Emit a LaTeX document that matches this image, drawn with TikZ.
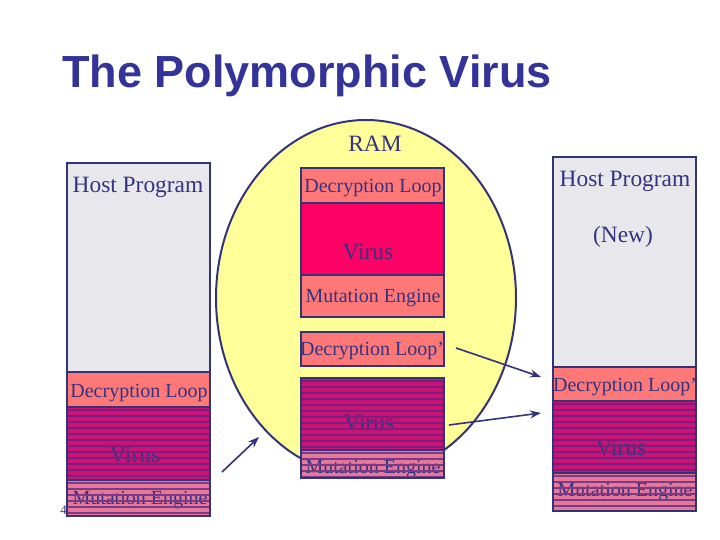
\documentclass[tikz,border=0pt]{standalone}
\usepackage{fontspec}
\setmainfont{Liberation Serif}
\newfontfamily\titlefont{Liberation Sans}
\usetikzlibrary{shapes.geometric,arrows.meta}
\definecolor{navy}{HTML}{333377}
\definecolor{txt}{HTML}{333380}
\definecolor{titleblue}{HTML}{333399}
\definecolor{hostgrey}{HTML}{E8E8EC}
\definecolor{salmon}{HTML}{FF7878}
\definecolor{hotpink}{HTML}{FF0066}
\definecolor{magband}{HTML}{CC1177}
\definecolor{magline}{HTML}{7A1F7A}
\definecolor{pinkband}{HTML}{E87898}
\definecolor{pinkline}{HTML}{7A3A8A}
\definecolor{ramyellow}{HTML}{FFFF99}
\newcommand\stripeit[2]{%
  \begin{scope}
    \clip (#1.north west) rectangle (#1.south east);
    \foreach \k in {0,...,15}
      \draw[line width=1.8pt,#2] ([yshift=-(3+6*\k)*1pt]#1.north west) -- ++(160,0);
  \end{scope}
  \draw[boxline] (#1.north west) rectangle (#1.south east);}
\begin{document}
\begin{tikzpicture}[x=1pt,y=-1pt,
  boxline/.style={draw=navy,line width=2pt},
  membox/.style={rectangle,boxline,inner sep=0pt,outer sep=0pt,anchor=north west,minimum width=143pt},
  bigtxt/.style={text=txt,font=\fontsize{23.4}{26}\selectfont,anchor=base,inner sep=0pt},
  smalltxt/.style={text=txt,font=\fontsize{20}{23}\selectfont,anchor=base,inner sep=0pt},
  arr/.style={draw=navy,line width=1.6pt,-{Stealth[length=11pt,width=8pt]}}]
\useasboundingbox (0,0) rectangle (720,540);
\fill[white] (0,0) rectangle (720,540);

% title
\node[text=titleblue,font=\titlefont\bfseries\fontsize{45}{50}\selectfont,anchor=base west,inner sep=0pt] (title) at (62,88) {The Polymorphic Virus};

% RAM ellipse
\node[ellipse,boxline,fill=ramyellow,minimum width=300pt,minimum height=356pt,inner sep=0pt] (ram) at (366,298) {};
\node[bigtxt] (ramlabel) at (375,152) {RAM};

% slide number
\node[text=txt,font=\fontsize{13}{14}\selectfont,anchor=base east,inner sep=0pt] (pagenum) at (67,514) {4};

% left stack
\node[membox,fill=hostgrey,minimum height=209pt] (lhost) at (67,163) {};
\node[membox,fill=salmon,minimum height=35pt] (ldec) at (67,372) {};
\node[membox,fill=magband,minimum height=73pt] (lvir) at (67,407) {};
\node[membox,fill=pinkband,minimum height=36pt] (lmut) at (67,480) {};
\node[bigtxt] (lhostt) at (138,193) {Host Program};
\node[smalltxt] (ldect) at (139,397) {Decryption Loop};
\node[bigtxt] (lvirt) at (135,462) {Virus};
\node[smalltxt] (lmutt) at (140,504) {Mutation Engine};
\stripeit{lvir}{magline}
\stripeit{lmut}{pinkline}

% middle stack (in RAM)
\node[membox,fill=salmon,minimum height=35pt] (mdec) at (301,168) {};
\node[membox,fill=hotpink,minimum height=72pt] (mvir) at (301,203) {};
\node[membox,fill=salmon,minimum height=42pt] (mmut) at (301,275) {};
\node[smalltxt] (mdect) at (373,193) {Decryption Loop};
\node[bigtxt] (mvirt) at (368,259) {Virus};
\node[smalltxt] (mmutt) at (373,302) {Mutation Engine};

\node[membox,fill=salmon,minimum height=34pt] (mdec2) at (301,332) {};
\node[smalltxt] (mdec2t) at (372,355) {Decryption Loop'};
\node[membox,fill=magband,minimum height=72pt] (mvir2) at (301,378) {};
\node[membox,fill=pinkband,minimum height=28pt] (mmut2) at (301,450) {};
\node[bigtxt] (mvir2t) at (369,430) {Virus};
\node[smalltxt] (mmut2t) at (373,473) {Mutation Engine};
\stripeit{mvir2}{magline}
\stripeit{mmut2}{pinkline}

% right stack
\node[membox,fill=hostgrey,minimum height=210pt] (rhost) at (553,157) {};
\node[membox,fill=salmon,minimum height=34pt] (rdec) at (553,367) {};
\node[membox,fill=magband,minimum height=72pt] (rvir) at (553,401) {};
\node[membox,fill=pinkband,minimum height=38pt] (rmut) at (553,473) {};
\node[bigtxt] (rhostt) at (625,187) {Host Program};
\node[bigtxt] (rnewt) at (623,242) {(New)};
\node[smalltxt] (rdect) at (625,391) {Decryption Loop'};
\node[bigtxt] (rvirt) at (621,455) {Virus};
\node[smalltxt] (rmutt) at (625,496) {Mutation Engine};
\stripeit{rvir}{magline}
\stripeit{rmut}{pinkline}

% arrows
\coordinate (a1s) at (222,472);
\coordinate (a1e) at (259,437);
\coordinate (a2s) at (456,348);
\coordinate (a2e) at (541,377);
\coordinate (a3s) at (449,425);
\coordinate (a3e) at (541,413);
\draw[arr] (a1s) -- (a1e);
\draw[arr] (a2s) -- (a2e);
\draw[arr] (a3s) -- (a3e);
\end{tikzpicture}
\end{document}
